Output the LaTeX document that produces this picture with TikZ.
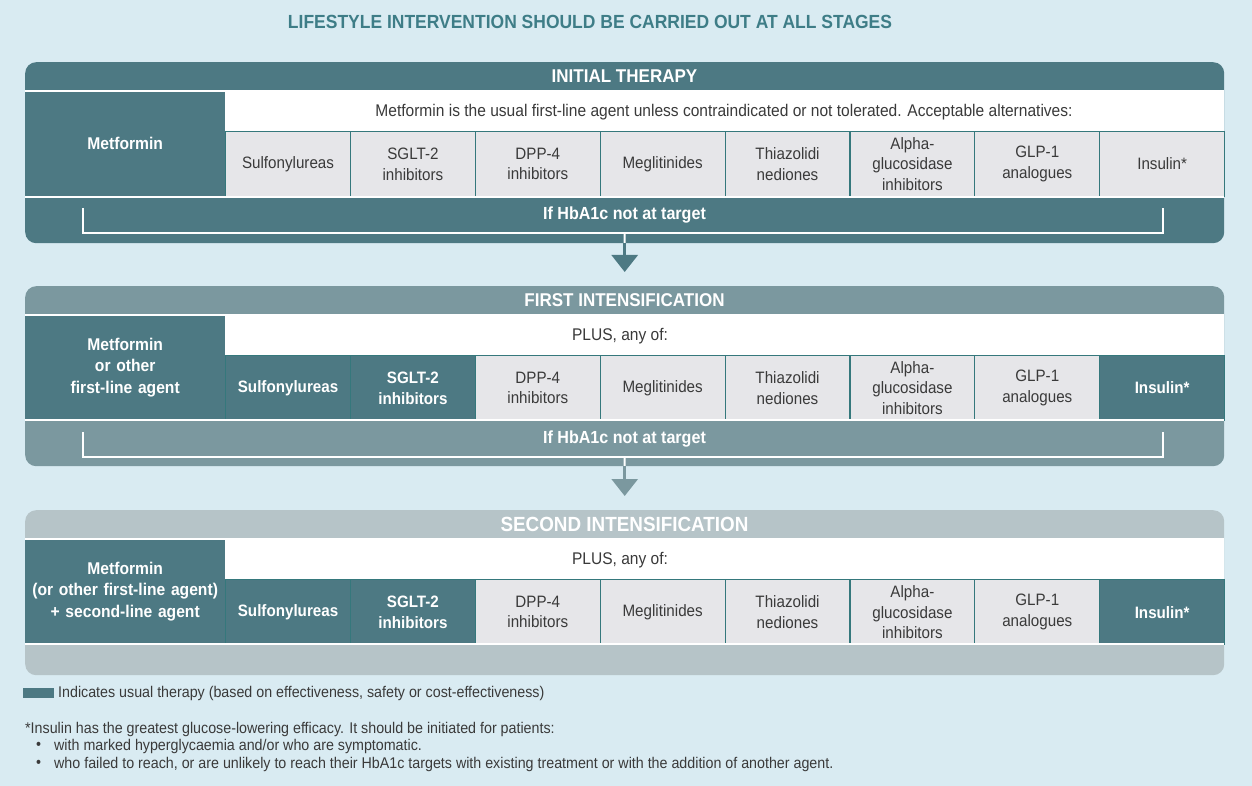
\documentclass[tikz,border=0pt]{standalone}
\usepackage{fontspec}
\setmainfont[FakeStretch=0.92]{Liberation Sans}
\usetikzlibrary{arrows.meta}
\definecolor{pagebg}{HTML}{D9EBF2}
\definecolor{darkteal}{HTML}{4D7983}
\definecolor{midteal}{HTML}{7B989F}
\definecolor{lightteal}{HTML}{B6C4C8}
\definecolor{cellgrey}{HTML}{E6E6E9}
\definecolor{cellline}{HTML}{35787C}
\definecolor{titleteal}{HTML}{3E7D87}
\definecolor{bodytext}{HTML}{3A3A3A}
\tikzset{
  panel/.style={rounded corners=11pt, minimum width=1199pt, anchor=north west, inner sep=0pt},
  headtext/.style={text=white, font=\fontsize{18.5}{20}\selectfont\bfseries},
  targettext/.style={text=white, font=\fontsize{17.5}{20}\selectfont\bfseries},
  leftcell/.style={fill=darkteal, anchor=north west, minimum width=200pt, inner sep=0pt,
    text width=198pt, align=center, text=white, font=\fontsize{17}{21.5}\selectfont\bfseries},
  introrow/.style={fill=white, anchor=north west, minimum width=999pt, minimum height=39pt, inner sep=0pt},
  introtext/.style={text=bodytext, font=\fontsize{16.9}{19}\selectfont},
  drug/.style={draw=cellline, line width=1.2pt, fill=cellgrey, anchor=north west,
    minimum width=124.875pt, minimum height=65pt, inner sep=0pt, text width=122pt,
    align=center, text=bodytext, font=\fontsize{16.5}{20.5}\selectfont},
  usual/.style={drug, fill=darkteal, text=white, font=\fontsize{16.5}{20.5}\selectfont\bfseries},
  divider/.style={draw=white, line width=1.6pt},
  bracket/.style={draw=white, line width=2pt},
  stagearrow/.style={-{Triangle[width=26pt,length=17pt]}, line width=3pt, shorten >=14pt},
  note/.style={text=bodytext, font=\fontsize{15.5}{18}\selectfont, inner sep=0pt}
}
% one row of the eight drug classes
\newcommand\DrugRow[5]{%
  \foreach \i/\s/\t in {1/#3/Sulfonylureas, 2/#4/{SGLT-2\\inhibitors},
      3/drug/{DPP-4\\inhibitors}, 4/drug/Meglitinides, 5/drug/{Thiazolidi\\nediones},
      6/drug/{Alpha-\\glucosidase\\inhibitors}, 7/drug/{GLP-1\\analogues}, 8/#5/Insulin*}
    \node[\s] (#1c\i) at ({225+(\i-1)*124.875}, #2) {\t};
}
\begin{document}
\begin{tikzpicture}[x=1pt,y=-1pt]
\fill[pagebg] (0,0) rectangle (1252,786);
\useasboundingbox (0,0) rectangle (1252,786);

\node[text=titleteal, font=\fontsize{19}{21}\selectfont\bfseries] (title) at (590,22)
  {LIFESTYLE INTERVENTION SHOULD BE CARRIED OUT AT ALL STAGES};

% ---------- initial therapy ----------
\node[panel, fill=darkteal, minimum height=181pt] (p1) at (25,62) {};
\node[headtext] (h1) at (624.5,76.5) {INITIAL THERAPY};
\node[leftcell, minimum height=105pt] (l1) at (25,91) {Metformin};
\node[introrow] (r1) at (225,92) {};
\node[introtext] at (724,112) {Metformin is the usual first-line agent unless contraindicated or not tolerated. Acceptable alternatives:};
\DrugRow{p1}{131}{drug}{drug}{drug}
\draw[divider] (25,91) -- (1224,91);
\draw[divider] (25,197) -- (1224,197);
\node[targettext] (t1) at (624.5,215) {If HbA1c not at target};
\draw[bracket] (83,208) -- (83,233) -- (1163,233) -- (1163,208);
\coordinate (s1) at (624.5,233);
\draw[bracket] (s1) -- (p1.south);

% ---------- first intensification ----------
\node[panel, fill=midteal, minimum height=180pt] (p2) at (25,286) {};
\node[headtext] (h2) at (624.5,300.5) {FIRST INTENSIFICATION};
\node[leftcell, minimum height=104pt] (l2) at (25,315) {Metformin\\or other\\first-line agent};
\node[introrow, minimum height=39pt] (r2) at (225,316) {};
\node[introtext] at (620,336) {PLUS, any of:};
\DrugRow{p2}{355}{usual}{usual}{usual}
\draw[divider] (25,315) -- (1224,315);
\draw[divider] (25,420) -- (1224,420);
\node[targettext] (t2) at (624.5,439) {If HbA1c not at target};
\draw[bracket] (83,432) -- (83,457) -- (1163,457) -- (1163,432);
\coordinate (s2) at (624.5,457);
\draw[bracket] (s2) -- (p2.south);

% ---------- second intensification ----------
\node[panel, fill=lightteal, minimum height=165pt] (p3) at (25,510) {};
\node[headtext, font=\fontsize{20.5}{22}\selectfont\bfseries] (h3) at (624.5,524.5) {SECOND INTENSIFICATION};
\node[leftcell, minimum height=104pt] (l3) at (25,539) {Metformin\\(or other first-line agent)\\+ second-line agent};
\node[introrow, minimum height=39pt] (r3) at (225,540) {};
\node[introtext] at (620,560) {PLUS, any of:};
\DrugRow{p3}{579}{usual}{usual}{usual}
\draw[divider] (25,539) -- (1224,539);
\draw[divider] (25,644) -- (1224,644);

% stage arrows
\draw[stagearrow, darkteal] (p1.south) -- (p2.north);
\draw[stagearrow, midteal] (p2.south) -- (p3.north);

% legend
\node[fill=darkteal, minimum width=31pt, minimum height=10pt, inner sep=0pt, anchor=north west] (key) at (23,688) {};
\node[note, anchor=west] (keytext) at (58,693) {Indicates usual therapy (based on effectiveness, safety or cost-effectiveness)};

% footnote
\node[note, anchor=west] (fn) at (25,729) {*Insulin has the greatest glucose-lowering efficacy. It should be initiated for patients:};
\node[note, anchor=west] (b1) at (36,746) {\textbullet};
\node[note, anchor=west] (fn1) at (54,746) {with marked hyperglycaemia and/or who are symptomatic.};
\node[note, anchor=west] (b2) at (36,764) {\textbullet};
\node[note, anchor=west] (fn2) at (54,764) {who failed to reach, or are unlikely to reach their HbA1c targets with existing treatment or with the addition of another agent.};
\end{tikzpicture}
\end{document}
